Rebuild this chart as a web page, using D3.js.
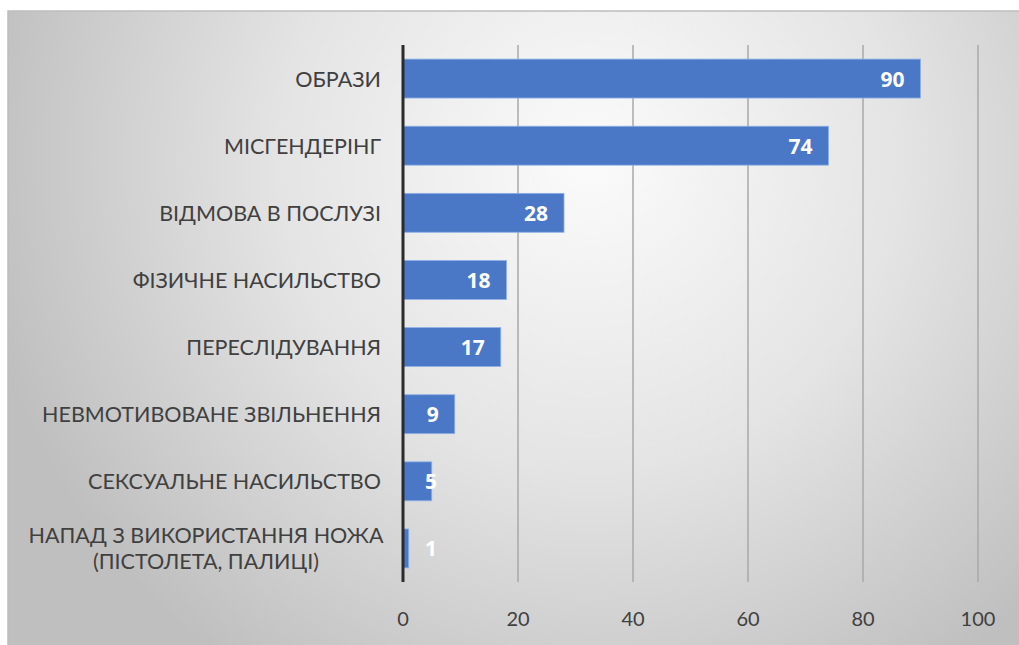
<!DOCTYPE html>
<html>
<head>
    <meta charset="utf-8">
    <script src="https://d3js.org/d3.v7.min.js"></script>
    <style>
        body { margin: 0; background: #fff; }
        .cat { font-family: Lato, 'Open Sans', sans-serif; font-size: 21.5px; fill: #404040; }
        .tick-label { font-family: Lato, sans-serif; font-size: 20px; fill: #404040; }
        .val { font-family: 'Open Sans', sans-serif; font-size: 21px; font-weight: bold; fill: #fff; }
    </style>
</head>
<body>
<svg id="chart" width="1019" height="645"></svg>
<script>
    const categories = [
        ["ОБРАЗИ"],
        ["МІСГЕНДЕРІНГ"],
        ["ВІДМОВА В ПОСЛУЗІ"],
        ["ФІЗИЧНЕ НАСИЛЬСТВО"],
        ["ПЕРЕСЛІДУВАННЯ"],
        ["НЕВМОТИВОВАНЕ ЗВІЛЬНЕННЯ"],
        ["СЕКСУАЛЬНЕ НАСИЛЬСТВО"],
        ["НАПАД З ВИКОРИСТАННЯ НОЖА", "(ПІСТОЛЕТА, ПАЛИЦІ)"]
    ];
    const values = [90, 74, 28, 18, 17, 9, 5, 1];
    const xTicks = [0, 20, 40, 60, 80, 100];

    const svg = d3.select("#chart");
    const frame = { x: 8, y: 11, w: 1015, h: 640 };
    const plot = { left: 403, right: 978, top: 45, bottom: 582 };

    const defs = svg.append("defs");
    const grad = defs.append("radialGradient")
        .attr("id", "bg")
        .attr("gradientUnits", "userSpaceOnUse")
        .attr("cx", 590).attr("cy", 160).attr("r", 620);
    grad.append("stop").attr("offset", 0).attr("stop-color", "#fbfbfb");
    grad.append("stop").attr("offset", 0.5).attr("stop-color", "#e4e4e4");
    grad.append("stop").attr("offset", 1).attr("stop-color", "#bfbfbf");

    svg.append("rect")
        .attr("x", frame.x).attr("y", frame.y)
        .attr("width", frame.w).attr("height", frame.h)
        .attr("fill", "url(#bg)")
        .attr("stroke", "#bdbdbd")
        .attr("stroke-width", 1.5);

    const x = d3.scaleLinear().domain([0, 100]).range([plot.left, plot.right]);
    const y = d3.scaleBand().domain(d3.range(categories.length))
        .range([plot.top, plot.bottom]).paddingInner(0.42).paddingOuter(0.21);

    // vertical gridlines
    svg.append("g").selectAll("line")
        .data(xTicks.slice(1))
        .join("line")
        .attr("x1", d => x(d)).attr("x2", d => x(d))
        .attr("y1", plot.top).attr("y2", plot.bottom)
        .attr("stroke", "#a8a8a8")
        .attr("stroke-width", 1.5);

    // x tick labels
    svg.append("g").selectAll("text")
        .data(xTicks)
        .join("text")
        .attr("class", "tick-label")
        .attr("x", d => x(d))
        .attr("y", 618)
        .attr("text-anchor", "middle")
        .attr("dominant-baseline", "central")
        .text(d => d);

    // bars
    svg.append("g").selectAll("rect")
        .data(values)
        .join("rect")
        .attr("x", x(0))
        .attr("y", (d, i) => y(i))
        .attr("width", d => x(d) - x(0))
        .attr("height", y.bandwidth())
        .attr("fill", "#4a78c7")
        .attr("stroke", "#8fb0e6")
        .attr("stroke-width", 0.8);

    // value labels
    svg.append("g").selectAll("text")
        .data(values)
        .join("text")
        .attr("class", "val")
        .attr("x", d => Math.max(x(d) - 16, x(0) + 34))
        .attr("y", (d, i) => y(i) + y.bandwidth() / 2)
        .attr("text-anchor", "end")
        .attr("dominant-baseline", "central")
        .text(d => d);

    // category labels
    const catG = svg.append("g");
    categories.forEach((lines, i) => {
        const cy = y(i) + y.bandwidth() / 2;
        const t = catG.append("text")
            .attr("class", "cat")
            .attr("text-anchor", lines.length > 1 ? "middle" : "end")
            .attr("dominant-baseline", "central");
        const lh = 26;
        lines.forEach((s, j) => {
            t.append("tspan")
                .attr("x", lines.length > 1 ? 206 : 381)
                .attr("y", cy + (j - (lines.length - 1) / 2) * lh)
                .text(s);
        });
    });

    // axis line
    svg.append("line")
        .attr("x1", x(0)).attr("x2", x(0))
        .attr("y1", plot.top).attr("y2", plot.bottom)
        .attr("stroke", "#2b2b2b")
        .attr("stroke-width", 3);
</script>
</body>
</html>
